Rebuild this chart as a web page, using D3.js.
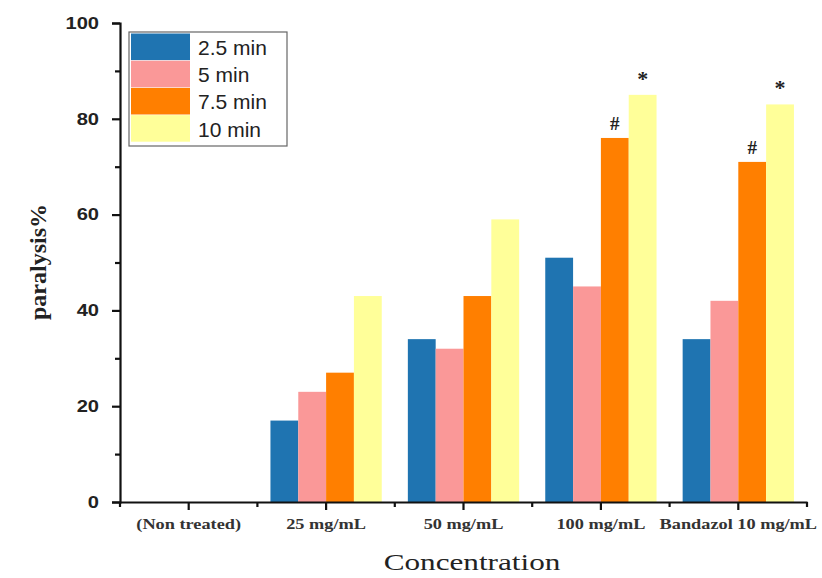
<!DOCTYPE html>
<html>
<head>
<meta charset="utf-8">
<script src="https://cdn.jsdelivr.net/npm/d3@7/dist/d3.min.js"></script>
<style>
  html, body { margin: 0; padding: 0; background: #fff; }
  svg { display: block; }
</style>
</head>
<body>
<svg id="chart" width="822" height="578"></svg>
<script>
// Paralysis % by concentration, grouped by exposure time
const categories = ["(Non treated)", "25 mg/mL", "50 mg/mL", "100 mg/mL", "Bandazol 10 mg/mL"];
const seriesNames = ["2.5 min", "5 min", "7.5 min", "10 min"];
const min2_5 = [0, 17, 34, 51, 34];
const min5   = [0, 23, 32, 45, 42];
const min7_5 = [0, 27, 43, 76, 71];
const min10  = [0, 43, 59, 85, 83];
const seriesValues = [min2_5, min5, min7_5, min10];
const seriesColors = ["#1f74b1", "#fa9898", "#ff7f00", "#ffff99"];
// significance marks: [category index, series index, symbol]
const marks = [[3, 2, "#"], [3, 3, "*"], [4, 2, "#"], [4, 3, "*"]];
const yTicks = [0, 20, 40, 60, 80, 100];
const yMinorTicks = [10, 30, 50, 70, 90];

const svg = d3.select("#chart");
const plotLeft = 120, plotRight = 807, plotTop = 23, plotBottom = 502;

const x = d3.scaleBand().domain(categories).range([plotLeft, plotRight]).paddingInner(0).paddingOuter(0);
const xs = d3.scaleBand().domain(seriesNames).range([0, x.bandwidth() * 0.81]);
const groupOffset = (x.bandwidth() - x.bandwidth() * 0.81) / 2;
const y = d3.scaleLinear().domain([0, 100]).range([plotBottom, plotTop]);

// bars
const groups = svg.append("g").selectAll("g")
  .data(categories).join("g")
  .attr("transform", d => `translate(${x(d) + groupOffset},0)`);

groups.selectAll("rect")
  .data((c, ci) => seriesNames.map((s, si) => ({ s, si, v: seriesValues[si][ci] })))
  .join("rect")
  .attr("x", d => xs(d.s))
  .attr("width", xs.bandwidth())
  .attr("y", d => y(d.v))
  .attr("height", d => y(0) - y(d.v))
  .attr("fill", d => seriesColors[d.si]);

// significance symbols
svg.append("g").selectAll("text")
  .data(marks).join("text")
  .attr("x", d => x(categories[d[0]]) + groupOffset + xs(seriesNames[d[1]]) + xs.bandwidth() / 2)
  .attr("y", d => y(seriesValues[d[1]][d[0]]) - (d[2] === "*" ? 9 : 8))
  .attr("text-anchor", "middle")
  .attr("font-family", "Liberation Serif, serif")
  .attr("font-size", d => d[2] === "*" ? 22 : 19)
  .attr("font-weight", "bold")
  .attr("fill", "#222")
  .text(d => d[2]);

// y axis
const yAxis = svg.append("g")
  .attr("transform", `translate(${plotLeft},0)`)
  .call(d3.axisLeft(y).tickValues(yTicks).tickSize(8));
yAxis.select(".domain").attr("stroke", "#111").attr("stroke-width", 2.2);
yAxis.selectAll(".tick line").attr("stroke", "#111").attr("stroke-width", 2.2);
yAxis.selectAll(".tick text")
  .attr("font-family", "Liberation Sans, Arial, sans-serif")
  .attr("font-size", 16.5).attr("font-weight", "bold").attr("fill", "#222")
  .attr("transform", "scale(1.22,1)")
  .attr("x", -21 / 1.22);

svg.append("g")
  .attr("transform", `translate(${plotLeft},0)`)
  .call(d3.axisLeft(y).tickValues(yMinorTicks).tickSize(5).tickFormat(""))
  .call(g => g.select(".domain").remove())
  .selectAll(".tick line").attr("stroke", "#111").attr("stroke-width", 2.2);

// x axis
const xAxis = svg.append("g")
  .attr("transform", `translate(0,${plotBottom})`)
  .call(d3.axisBottom(x).tickSize(8).tickSizeOuter(0));
xAxis.select(".domain").attr("stroke", "#111").attr("stroke-width", 2.2);
xAxis.selectAll(".tick line").attr("stroke", "#111").attr("stroke-width", 2.2);
xAxis.selectAll(".tick text")
  .attr("font-family", "Liberation Serif, serif")
  .attr("font-size", 15).attr("font-weight", "bold").attr("fill", "#333")
  .attr("transform", "scale(1.22,1)")
  .attr("y", 27).attr("dy", 0);

// minor ticks at band boundaries
const boundaries = categories.map(c => x(c)).concat([plotRight]);
svg.append("g").selectAll("line")
  .data(boundaries).join("line")
  .attr("x1", d => d).attr("x2", d => d)
  .attr("y1", plotBottom).attr("y2", plotBottom + 5)
  .attr("stroke", "#111").attr("stroke-width", 2.2);

// axis titles
svg.append("text")
  .attr("transform", `translate(46,262) rotate(-90)`)
  .attr("text-anchor", "middle")
  .attr("font-family", "Liberation Serif, serif")
  .attr("font-size", 24).attr("font-weight", "bold").attr("fill", "#222")
  .text("paralysis%");

svg.append("text")
  .attr("transform", "translate(472,570) scale(1.3,1)")
  .attr("text-anchor", "middle")
  .attr("font-family", "Liberation Serif, serif")
  .attr("font-size", 24).attr("fill", "#222")
  .text("Concentration");

// legend
const legend = svg.append("g").attr("transform", "translate(129,32)");
legend.append("rect")
  .attr("x", 0).attr("y", 0).attr("width", 158).attr("height", 114)
  .attr("fill", "#fff").attr("stroke", "#666").attr("stroke-width", 1.2);
const rowH = 27.2;
const rows = legend.selectAll("g.row").data(seriesNames).join("g")
  .attr("class", "row")
  .attr("transform", (d, i) => `translate(2,${1.5 + i * rowH})`);
rows.append("rect")
  .attr("width", 59).attr("height", rowH - 0.6)
  .attr("fill", (d, i) => seriesColors[i]);
rows.append("text")
  .attr("x", 67).attr("y", rowH / 2 + 8)
  .attr("font-family", "Liberation Sans, Arial, sans-serif")
  .attr("font-size", 21).attr("fill", "#222")
  .text(d => d);
</script>
</body>
</html>
